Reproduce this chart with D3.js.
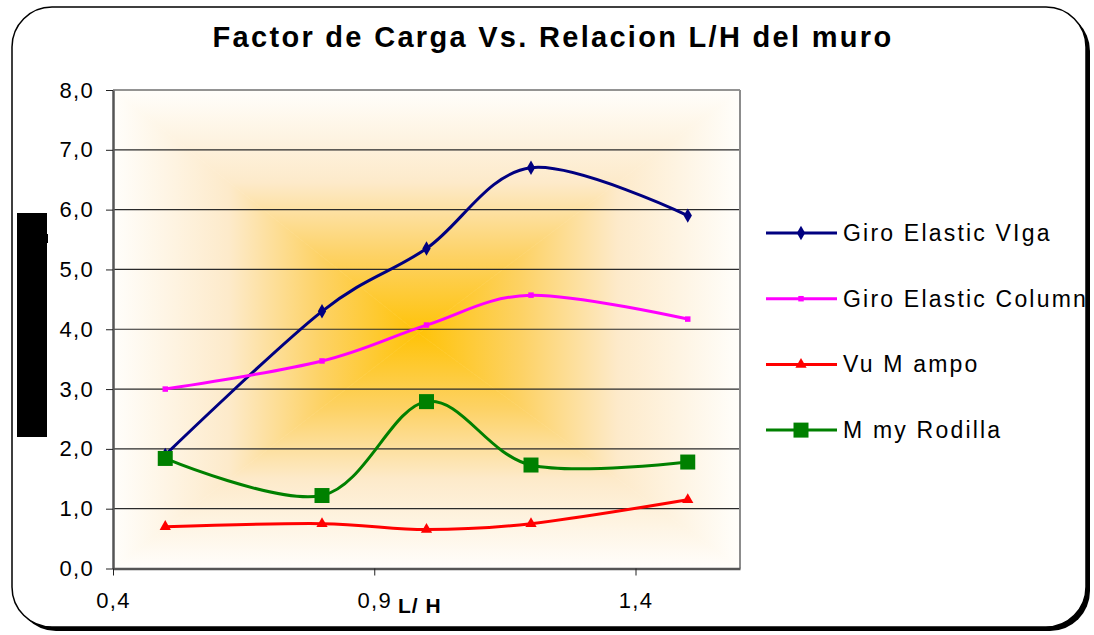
<!DOCTYPE html>
<html>
<head>
<meta charset="utf-8">
<script src="https://cdn.jsdelivr.net/npm/d3@7"></script>
<style>
  body { margin: 0; background: #ffffff; }
  text { font-family: Arial, "Liberation Sans", sans-serif; }
</style>
</head>
<body>
<div class="chart"></div>
<script>
// chart data
var lhValues = [0.5, 0.8, 1.0, 1.2, 1.5];
var giroViga = [1.9, 4.3, 5.35, 6.7, 5.9];
var giroColumn = [3.0, 3.47, 4.07, 4.57, 4.17];
var vuMampo = [0.7, 0.75, 0.65, 0.75, 1.15];
var mmyRodilla = [1.84, 1.22, 2.79, 1.73, 1.78];
var seriesNames = ["Giro Elastic VIga", "Giro Elastic Column", "Vu M ampo", "M my Rodilla"];
var yTicks = [0, 1, 2, 3, 4, 5, 6, 7, 8];
var xTicks = [0.4, 0.9, 1.4];

var width = 1094;
var height = 635;
var plot = { left: 113, right: 740, top: 90, bottom: 568.5 };

const svg = d3.select(".chart")
              .append("svg")
              .attr("width", width)
              .attr("height", height);

// outer rounded frame with shadow
svg.append("rect")
   .attr("x", 16).attr("y", 11)
   .attr("width", 1074).attr("height", 620)
   .attr("rx", 40)
   .attr("fill", "#000");
svg.append("rect")
   .attr("x", 12).attr("y", 7)
   .attr("width", 1074).attr("height", 620)
   .attr("rx", 40)
   .attr("fill", "#fff")
   .attr("stroke", "#000")
   .attr("stroke-width", 1.5);

var x = d3.scaleLinear().domain([0.4, 1.6]).range([plot.left, plot.right]);
var y = d3.scaleLinear().domain([0, 8]).range([plot.bottom, plot.top]);

// "from center" gradient -> four triangles each fading to its edge
var cx = (plot.left + plot.right) / 2 - 8;
var cy = (plot.top + plot.bottom) / 2 + 4;
var defs = svg.append("defs");
var sides = [
  { id: "gTop", to: [cx, plot.top], pts: [[plot.left, plot.top], [plot.right, plot.top], [cx, cy]] },
  { id: "gBottom", to: [cx, plot.bottom], pts: [[plot.left, plot.bottom], [plot.right, plot.bottom], [cx, cy]] },
  { id: "gLeft", to: [plot.left, cy], pts: [[plot.left, plot.top], [plot.left, plot.bottom], [cx, cy]] },
  { id: "gRight", to: [plot.right, cy], pts: [[plot.right, plot.top], [plot.right, plot.bottom], [cx, cy]] }
];
var stops = [
  { o: 0, c: "#FFC308" },
  { o: 0.32, c: "#FDD265" },
  { o: 0.62, c: "#FDEACA" },
  { o: 1, c: "#FFFEFB" }
];
sides.forEach(function(s) {
  var g = defs.append("linearGradient")
              .attr("id", s.id)
              .attr("gradientUnits", "userSpaceOnUse")
              .attr("x1", cx).attr("y1", cy)
              .attr("x2", s.to[0]).attr("y2", s.to[1]);
  g.selectAll("stop")
   .data(stops)
   .enter()
   .append("stop")
   .attr("offset", d => d.o)
   .attr("stop-color", d => d.c);
  svg.append("polygon")
     .attr("points", s.pts.map(p => p.join(",")).join(" "))
     .attr("fill", "url(#" + s.id + ")")
     .attr("stroke", "url(#" + s.id + ")")
     .attr("stroke-width", 0.6);
});

// gridlines
svg.append("g")
   .selectAll("line")
   .data(yTicks.slice(1))
   .enter()
   .append("line")
   .attr("x1", plot.left).attr("x2", plot.right)
   .attr("y1", d => y(d)).attr("y2", d => y(d))
   .attr("stroke", "#2a2a2a")
   .attr("stroke-width", 1.2);

// plot border (right side grey)
svg.append("line")
   .attr("x1", plot.right).attr("x2", plot.right)
   .attr("y1", plot.top).attr("y2", plot.bottom)
   .attr("stroke", "#8c8c8c")
   .attr("stroke-width", 2);

var fmt = d => d3.format(".1f")(d).replace(".", ",");

// y axis
var yAxis = svg.append("g")
               .attr("transform", "translate(" + plot.left + ",0)")
               .call(d3.axisLeft(y).tickValues(yTicks).tickFormat(fmt).tickSize(7).tickPadding(12).tickSizeOuter(0));
yAxis.select(".domain").attr("stroke", "#555").attr("stroke-width", 2.5);
yAxis.selectAll(".tick line").attr("stroke", "#222");
yAxis.selectAll("text")
     .attr("font-size", 22)
     .attr("letter-spacing", 1.3)
     .attr("fill", "#000")
     .attr("font-family", "Arial, 'Liberation Sans', sans-serif");

// x axis
var xAxis = svg.append("g")
               .attr("transform", "translate(0," + plot.bottom + ")")
               .call(d3.axisBottom(x).tickValues(xTicks).tickFormat(fmt).tickSize(7).tickPadding(17).tickSizeOuter(0));
xAxis.select(".domain").attr("stroke", "#555").attr("stroke-width", 2.5);
xAxis.selectAll(".tick line").attr("stroke", "#222");
xAxis.selectAll("text")
     .attr("font-size", 22)
     .attr("letter-spacing", 1.3)
     .attr("fill", "#000")
     .attr("font-family", "Arial, 'Liberation Sans', sans-serif");

// series
var series = [
  { name: seriesNames[0], values: giroViga, color: "#000080", marker: d3.symbolDiamond, size: 60 },
  { name: seriesNames[1], values: giroColumn, color: "#FF00FF", marker: d3.symbolSquare, size: 30 },
  { name: seriesNames[2], values: vuMampo, color: "#FF0000", marker: d3.symbolTriangle, size: 55 },
  { name: seriesNames[3], values: mmyRodilla, color: "#008000", marker: d3.symbolSquare, size: 225 }
];

var line = d3.line()
             .x(d => x(d[0]))
             .y(d => y(d[1]))
             .curve(d3.curveCatmullRom.alpha(0));

var serie = svg.selectAll(".serie")
               .data(series)
               .enter()
               .append("g")
               .attr("class", "serie");

serie.append("path")
     .attr("d", d => line(lhValues.map((v, i) => [v, d.values[i]])))
     .attr("fill", "none")
     .attr("stroke", d => d.color)
     .attr("stroke-width", 3);

serie.selectAll(".pt")
     .data(d => d.values.map((v, i) => ({ x: lhValues[i], y: v, s: d })))
     .enter()
     .append("path")
     .attr("class", "pt")
     .attr("transform", d => "translate(" + x(d.x) + "," + y(d.y) + ")")
     .attr("d", d => d3.symbol().type(d.s.marker).size(d.s.size)())
     .attr("fill", d => d.s.color);

// title
svg.append("text")
   .attr("x", 553)
   .attr("y", 47)
   .attr("text-anchor", "middle")
   .attr("font-size", 29)
   .attr("font-weight", "bold")
   .attr("letter-spacing", 2.3)
   .text("Factor de Carga Vs. Relacion L/H del muro");

// x axis title
svg.append("text")
   .attr("x", 398)
   .attr("y", 613)
   .attr("font-size", 21)
   .attr("font-weight", "bold")
   .attr("letter-spacing", 1)
   .text("L/ H");

// y axis title box (rendered black in the original)
svg.append("rect")
   .attr("x", 17).attr("y", 213)
   .attr("width", 30).attr("height", 224)
   .attr("fill", "#000");
svg.append("rect")
   .attr("x", 46).attr("y", 234)
   .attr("width", 2).attr("height", 9)
   .attr("fill", "#000");

// legend
var legend = svg.append("g")
                .attr("id", "legend")
                .attr("transform", "translate(766,233)");
var item = legend.selectAll(".legend-item")
                 .data(series)
                 .enter()
                 .append("g")
                 .attr("class", "legend-item")
                 .attr("transform", (d, i) => "translate(0," + (i * 65.7) + ")");
item.append("line")
    .attr("x1", 0).attr("x2", 71)
    .attr("stroke", d => d.color)
    .attr("stroke-width", 3);
item.append("path")
    .attr("transform", "translate(35,0)")
    .attr("d", d => d3.symbol().type(d.marker).size(d.size)())
    .attr("fill", d => d.color);
item.append("text")
    .attr("x", 77)
    .attr("y", 8)
    .attr("font-size", 23)
    .attr("letter-spacing", 2.2)
    .text(d => d.name);
</script>
</body>
</html>
